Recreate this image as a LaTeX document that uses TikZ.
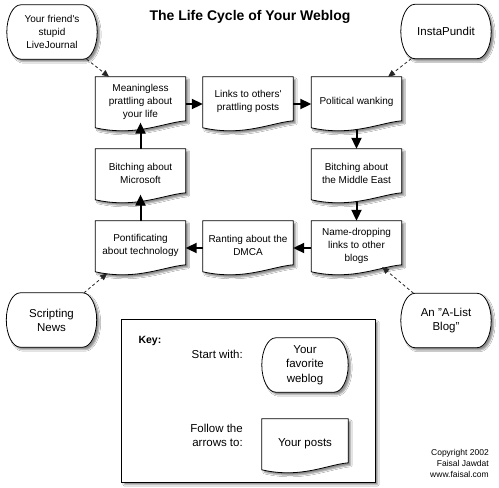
\documentclass[tikz,border=0pt]{standalone}
\usepackage{fontspec}
\setmainfont{Liberation Sans}
\usetikzlibrary{arrows.meta,calc,shadows.blur,backgrounds}
\newcommand{\docshape}[2][]{%
  \path[#1] let \p1=(#2.north west), \p2=(#2.north east), \n1={\x2-\x1} in
  (\x1,\y1) -- (\x2,\y1) -- (\x2,\y1-44pt)
  .. controls (\x1+0.75*\n1,\y1-46pt) and (\x1+0.45*\n1,\y1-60pt) ..
  (\x1,\y1-51pt) -- cycle;}
\newcommand{\termshape}[2][]{%
  \path[#1] let \p1=(#2.north west), \p2=(#2.south east), \n2={0.5*\y1+0.5*\y2} in
  (\x1+14pt,\y1) -- (\x2-14pt,\y1)
  .. controls (\x2-6.3pt,\y1) and (\x2,\n2+14.9pt) .. (\x2,\n2)
  .. controls (\x2,\n2-14.9pt) and (\x2-6.3pt,\y2) .. (\x2-14pt,\y2)
  -- (\x1+14pt,\y2)
  .. controls (\x1+6.3pt,\y2) and (\x1,\n2-14.9pt) .. (\x1,\n2)
  .. controls (\x1,\n2+14.9pt) and (\x1+6.3pt,\y1) .. (\x1+14pt,\y1) -- cycle;}
\begin{document}
\begin{tikzpicture}[x=1pt,y=-1pt,
  doc/.style={minimum width=90pt,minimum height=49pt,inner sep=1pt,align=center,
    font=\fontsize{10}{13}\selectfont},
  term/.style={minimum width=90pt,minimum height=54pt,inner sep=1pt,align=center,
    font=\fontsize{11.5}{14}\selectfont},
  shapeline/.style={draw=black,line width=0.8pt,fill=white,
    blur shadow={shadow xshift=2.5pt,shadow yshift=-2.5pt,shadow blur radius=1.5pt,shadow opacity=45}},
  flow/.style={line width=2pt,-{Triangle[length=11pt,width=10pt]}},
  feed/.style={line width=0.8pt,black!85,dash pattern=on 3pt off 2.5pt,-{Triangle[length=7pt,width=6pt]}},
]
\useasboundingbox (0,0) rectangle (499,488);

% title
\node[font=\bfseries\fontsize{14}{16}\selectfont] (title) at (250,17) {The Life Cycle of Your Weblog};

% documents
\node[doc] (m)  at (140.5,101.5) {Meaningless\\prattling about\\your life};
\node[doc] (l)  at (248,101.5)   {Links to others\textquotesingle\\prattling posts};
\node[doc] (p)  at (356.5,101.5) {Political wanking};
\node[doc] (bm) at (140.5,173.5) {Bitching about\\Microsoft};
\node[doc] (be) at (356.5,173.5) {Bitching about\\the Middle East};
\node[doc] (pt) at (140.5,245.5) {Pontificating\\about technology};
\node[doc] (r)  at (248,245.5)   {Ranting about the\\DMCA};
\node[doc] (nd) at (356.5,245.5) {Name-dropping\\links to other\\blogs};

% terminals
\node[term,font=\fontsize{10}{13}\selectfont] (lj) at (52,32) {Your friend\textquotesingle s\\stupid\\LiveJournal};
\node[term] (ip) at (446,31.5) {InstaPundit};
\node[term] (sn) at (51.5,320) {Scripting\\News};
\node[term] (al) at (446,320.5) {An "A-List\\Blog"};

% key
\node[minimum width=253pt,minimum height=162pt] (key) at (248.5,401) {};
\node[anchor=west,font=\bfseries\fontsize{10.5}{12}\selectfont] (keylabel) at (135,341) {Key:};
\node[anchor=east,inner sep=0pt,font=\fontsize{11.5}{14}\selectfont] (start) at (243,354) {Start with:};
\node[anchor=east,inner sep=0pt,align=right,font=\fontsize{11.5}{14}\selectfont] (follow) at (243,435) {Follow the\\arrows to:};
\node[term,minimum width=86pt,font=\fontsize{11.5}{14.5}\selectfont] (kt) at (305,365) {Your\\favorite\\weblog};
\node[doc,minimum width=86pt,font=\fontsize{11.5}{14}\selectfont] (kd) at (305,443.5) {Your posts};

% copyright
\node[anchor=east,align=right,inner sep=0pt,font=\fontsize{8.5}{11}\selectfont] (copy) at (489,463) {Copyright 2002\\Faisal Jawdat\\www.faisal.com};

\begin{scope}[on background layer]
  \fill[white] (0,0) rectangle (499,488);
  \path[shapeline] (key.north west) rectangle (key.south east);
  \foreach \d in {m,l,p,bm,be,pt,r,nd,kd} {\docshape[shapeline]{\d}}
  \foreach \d in {lj,ip,sn,al,kt} {\termshape[shapeline]{\d}}
\end{scope}

% flow arrows
\draw[flow] ([yshift=-2.5pt]m.east) -- ([yshift=-2.5pt]l.west);
\draw[flow] ([yshift=-2.5pt]l.east) -- ([yshift=-2.5pt]p.west);
\draw[flow,shorten <=3.6pt] (p.south) -- (be.north);
\draw[flow,shorten <=3.6pt] (be.south) -- (nd.north);
\draw[flow] ([yshift=-2.5pt]nd.west) -- ([yshift=-2.5pt]r.east);
\draw[flow] ([yshift=-2.5pt]r.west) -- ([yshift=-2.5pt]pt.east);
\draw[flow,shorten >=-3.6pt] (pt.north) -- (bm.south);
\draw[flow,shorten >=-3.6pt] (bm.north) -- (m.south);

% feeds
\draw[feed] (lj) -- (m);
\draw[feed] (ip) -- (p);
\draw[feed,shorten >=5pt] (sn) -- (pt);
\draw[feed,shorten >=-5pt] (al) -- (nd);
\end{tikzpicture}
\end{document}
